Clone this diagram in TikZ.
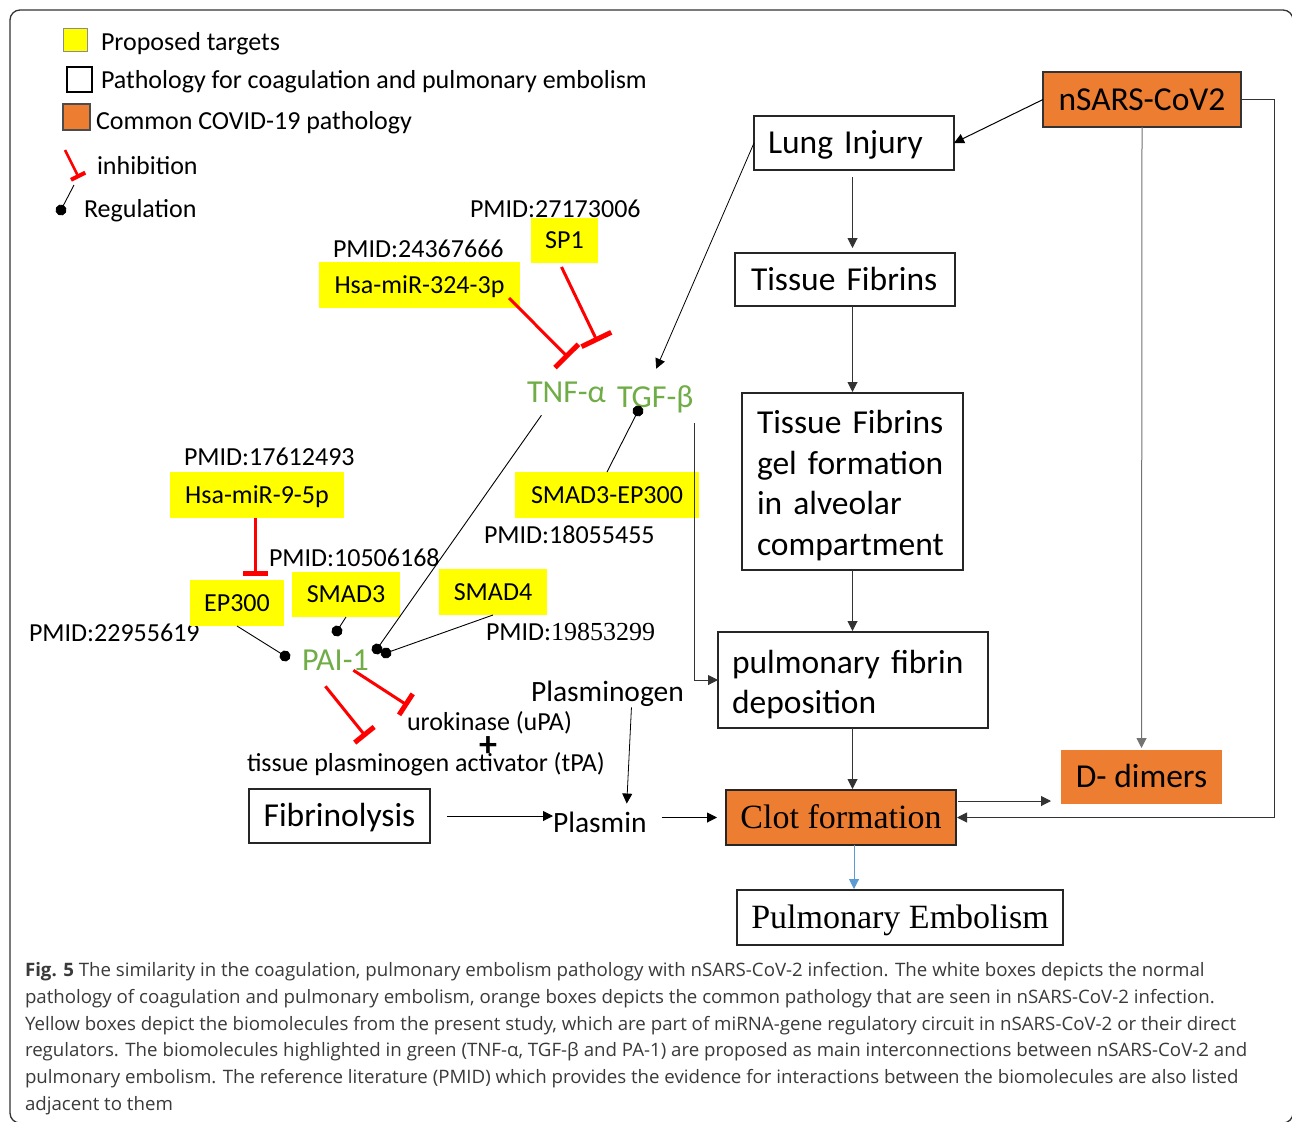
\documentclass[tikz,border=0pt]{standalone}
\usepackage{fontspec}
\usepackage{graphicx}
\setmainfont{Carlito}
\newfontfamily\tms{Liberation Serif}
\newfontfamily\capfont{Open Sans}
\usetikzlibrary{arrows.meta,calc}
\definecolor{orng}{HTML}{ED7D31}
\definecolor{grn}{HTML}{70AD47}
\definecolor{ylw}{HTML}{FFFF00}
\definecolor{bluearr}{HTML}{5B9BD5}
\definecolor{captxt}{HTML}{3A3A3A}
\newcommand\capln[1]{\scalebox{1.01}[1]{#1}}
\begin{document}
\begin{tikzpicture}[x=1pt,y=-1pt,
  every node/.style={inner sep=0pt,outer sep=0pt},
  fs26/.style={font=\fontsize{26}{31}\selectfont},
  txt/.style={fs26,anchor=west,text height=16.6pt,text depth=0pt},
  gtxt/.style={font=\fontsize{32}{38}\selectfont,text=grn,anchor=west,text height=20.5pt,text depth=0pt},
  wbox/.style={draw=black!85,line width=1.8pt,fill=white,font=\fontsize{33.5}{40.5}\selectfont,text height=21.4pt,text depth=0pt},
  wboxml/.style={draw=black!85,line width=1.8pt,fill=white,font=\fontsize{33.5}{40.5}\selectfont,align=left},
  obox/.style={fill=orng,font=\fontsize{33.5}{40.5}\selectfont,text height=21.4pt,text depth=0pt},
  ybox/.style={fill=ylw,fs26,text height=16.6pt,text depth=0pt},
  arr/.style={-{Triangle[length=10pt,width=10pt]},line width=1pt,draw=black!80},
  reg/.style={-{Circle[length=11pt]},shorten >=-5.5pt,line width=0.9pt,draw=black},
  inh/.style={draw=red,line width=3pt,-{Bar[width=33pt,line width=5pt]}},
  inhs/.style={draw=red,line width=3pt,-{Bar[width=25pt,line width=5pt]}},
  captext/.style={font=\fontsize{18.5}{24}\capfont,text=captxt,anchor=west,text height=13.2pt,text depth=0pt}
]
\useasboundingbox (0,0) rectangle (1292,1121);
\fill[white] (0,0) rectangle (1292,1121);
% frame
\draw[line width=1.3pt,black!80,rounded corners=10pt] (10,10) rectangle (1293,1123);

% legend
\node[fill=ylw,draw=black!45,line width=0.8pt,minimum width=24pt,minimum height=23pt] (lgy) at (75,39.5) {};
\node[draw=black,line width=1.5pt,minimum width=25pt,minimum height=25pt] (lgw) at (79.5,79.5) {};
\node[fill=orng,draw=black!70,line width=1.5pt,minimum width=27pt,minimum height=26pt] (lgo) at (76.5,117) {};
\node[txt] (lt1) at (101,42) {Proposed targets};
\node[txt] (lt2) at (101,80) {Pathology for coagulation and pulmonary embolism};
\node[txt] (lt3) at (96,121) {Common COVID-19 pathology};
\node[txt] (lt4) at (97,166) {inhibition};
\node[txt] (lt5) at (84,209) {Regulation};
\coordinate (li1) at (65,150);
\coordinate (li2) at (79,178);
\draw[draw=red,line width=2.5pt,-{Bar[width=16pt,line width=4pt]}] (li1) -- (li2);
\coordinate (lr1) at (74,185);
\coordinate (lr2) at (61,210);
\draw[reg] (lr1) -- (lr2);

% flow boxes
\node[obox,minimum width=198pt,minimum height=55pt,draw=black!80,line width=1.8pt] (nsars) at (1142,99.5) {nSARS-CoV2};
\node[wbox,minimum height=54pt,text width=172pt,inner xsep=14pt,align=left] (lung) at (854,143) {Lung Injury};
\node[wbox,minimum height=53pt,text width=188pt,inner xsep=16pt,align=left] (tissue) at (845,279.5) {Tissue Fibrins};
\node[wboxml,minimum height=177pt,text width=191pt,inner xsep=15pt] (gel) at (852.5,481.5) {\rule{0pt}{31pt}Tissue Fibrins\\gel formation\\in alveolar\\compartment};
\node[wboxml,minimum height=96pt,text width=242pt,inner xsep=14pt] (fib) at (853,680) {\rule{0pt}{32pt}pulmonary fibrin\\deposition};
\node[obox,draw=black!85,line width=1.8pt,minimum width=230pt,minimum height=55pt,font=\fontsize{34}{40}\tms,text height=22.5pt] (clot) at (841,817.5) {Clot formation};
\node[wbox,minimum width=326pt,minimum height=55pt,font=\fontsize{34}{40}\tms,text height=22.5pt] (pe) at (900,917.5) {Pulmonary Embolism};
\node[obox,minimum width=161pt,minimum height=54pt] (ddimer) at (1141.5,777) {D- dimers};
\node[wbox,minimum width=181pt,minimum height=54pt] (fibrinolysis) at (339.5,816) {Fibrinolysis};

% plain texts
\node[txt,font=\fontsize{29.5}{35}\selectfont,text height=18.9pt] (plasmin) at (553,823) {Plasmin};
\node[txt,font=\fontsize{29.5}{35}\selectfont,text height=18.9pt] (plasminogen) at (531,692) {Plasminogen};
\node[txt] (uro) at (407,722) {urokinase (uPA)};
\node[txt] (tpa) at (247,763) {tissue plasminogen activator (tPA)};
\node[font=\fontsize{36}{42}\selectfont\bfseries,text height=22pt,text depth=0pt] (plus) at (488,745) {+};
\node[gtxt] (tnf) at (527,392) {TNF-α};
\node[gtxt] (tgf) at (617,397) {TGF-β};
\node[gtxt] (pai) at (302,660) {PAI-1};

% PMIDs
\node[txt] (p1) at (470,209) {PMID:27173006};
\node[txt] (p2) at (333,249) {PMID:24367666};
\node[txt] (p3) at (184,457) {PMID:17612493};
\node[txt] (p4) at (484,535) {PMID:18055455};
\node[txt] (p5) at (269,558) {PMID:10506168};
\node[txt] (p6) at (29,633) {PMID:22955619};
\node[txt] (p7) at (486,632) {PMID:{\tms 19853299}};

% yellow boxes
\node[ybox,minimum width=67pt,minimum height=45pt] (sp1) at (564.5,240.5) {SP1};
\node[ybox,minimum width=201pt,minimum height=46pt] (m324) at (419.5,285) {Hsa-miR-324-3p};
\node[ybox,minimum width=174pt,minimum height=46pt] (m9) at (257,495) {Hsa-miR-9-5p};
\node[ybox,minimum width=184pt,minimum height=46pt] (sep) at (607,495) {SMAD3-EP300};
\node[ybox,minimum width=94pt,minimum height=46pt] (ep300) at (237,603) {EP300};
\node[ybox,minimum width=108pt,minimum height=45pt] (smad3) at (346,594.5) {SMAD3};
\node[ybox,minimum width=108pt,minimum height=46pt] (smad4) at (493,592) {SMAD4};

% flow connectors
\draw[arr,draw=black] (nsars.west) -- (lung.east);
\draw[arr,shorten <=7pt,shorten >=5pt] (lung.south -| gel.north) -- (tissue.north -| gel.north);
\draw[arr,shorten >=1pt] (tissue.south -| gel.north) -- (gel.north);
\draw[arr,shorten >=1pt] (gel.south) -- (fib.north -| gel.south);
\draw[arr,shorten >=1pt] (fib.south -| gel.south) -- (clot.north -| gel.south);
\draw[arr,draw=bluearr,shorten >=1pt] ([xshift=13pt]clot.south) -- ([xshift=13pt]clot.south |- pe.north);
\draw[arr,draw=black!55,shorten >=2pt] (nsars.south) -- (ddimer.north);
\draw[arr,shorten >=1pt] (nsars.east) -- ++(33,0) |- (clot.east);
\coordinate (c1) at ([xshift=2pt,yshift=-11pt]clot.north east);
\draw[arr,shorten >=10pt] (c1) -- (c1 -| ddimer.west);
\draw[arr,draw=black,line width=0.8pt] (lung.west) -- ([xshift=1pt,yshift=18pt]tgf.north);
\draw[arr,draw=black!80] ([xshift=1pt,yshift=-16pt]tgf.south east) |- (fib.west);
\draw[arr,draw=black,shorten <=17pt] (fibrinolysis.east) -- (fibrinolysis.east -| plasmin.west);
\draw[arr,draw=black,shorten <=15pt,shorten >=9pt] (plasmin.east |- clot.west) -- (clot.west);
\draw[arr,draw=black,line width=0.8pt] ([xshift=24pt,yshift=-6pt]plasminogen.south) -- ([xshift=27pt,yshift=10pt]plasmin.north);

% regulation
\coordinate (dtgf) at (638,411);
\coordinate (dtnf) at (377,649);
\coordinate (d4) at (386,653);
\coordinate (d3) at (337,631);
\coordinate (dep) at (285,656);
\draw[reg] (sep.north) -- (dtgf);
\draw[reg] ([xshift=-25pt,yshift=-13pt]tnf.south) -- (dtnf);
\draw[reg] (smad4.south) -- (d4);
\draw[reg] (smad3.south) -- (d3);
\draw[reg] (ep300.south) -- (dep);

% inhibition
\draw[inh] ([xshift=-11pt,yshift=10pt]m324.south east) -- ([xshift=2pt,yshift=24pt]tnf.north);
\draw[inh] ([xshift=-3pt,yshift=-4pt]sp1.south) -- ([xshift=31pt,yshift=40pt]tnf.north);
\draw[inhs] ([xshift=-2pt]m9.south) -- ([xshift=-2pt,yshift=4pt]m9.south |- ep300.north);
\draw[inhs] ([xshift=18pt]pai.south) -- ([xshift=1pt,yshift=8pt]uro.north west);
\draw[inhs] ([xshift=-10pt,yshift=-16pt]pai.south) -- ([xshift=119pt,yshift=18pt]tpa.north west);

% caption
\node[captext] (cap1) at (25,970) {\capln{\textbf{Fig. 5} The similarity in the coagulation, pulmonary embolism pathology with nSARS-CoV-2 infection. The white boxes depicts the normal}};
\node[captext] (cap2) at (25,997) {\capln{pathology of coagulation and pulmonary embolism, orange boxes depicts the common pathology that are seen in nSARS-CoV-2 infection.}};
\node[captext] (cap3) at (25,1024) {\capln{Yellow boxes depict the biomolecules from the present study, which are part of miRNA-gene regulatory circuit in nSARS-CoV-2 or their direct}};
\node[captext] (cap4) at (25,1050) {\capln{regulators. The biomolecules highlighted in green (TNF-α, TGF-β and PA-1) are proposed as main interconnections between nSARS-CoV-2 and}};
\node[captext] (cap5) at (25,1077) {\capln{pulmonary embolism. The reference literature (PMID) which provides the evidence for interactions between the biomolecules are also listed}};
\node[captext] (cap6) at (25,1104) {\capln{adjacent to them}};
\end{tikzpicture}
\end{document}
